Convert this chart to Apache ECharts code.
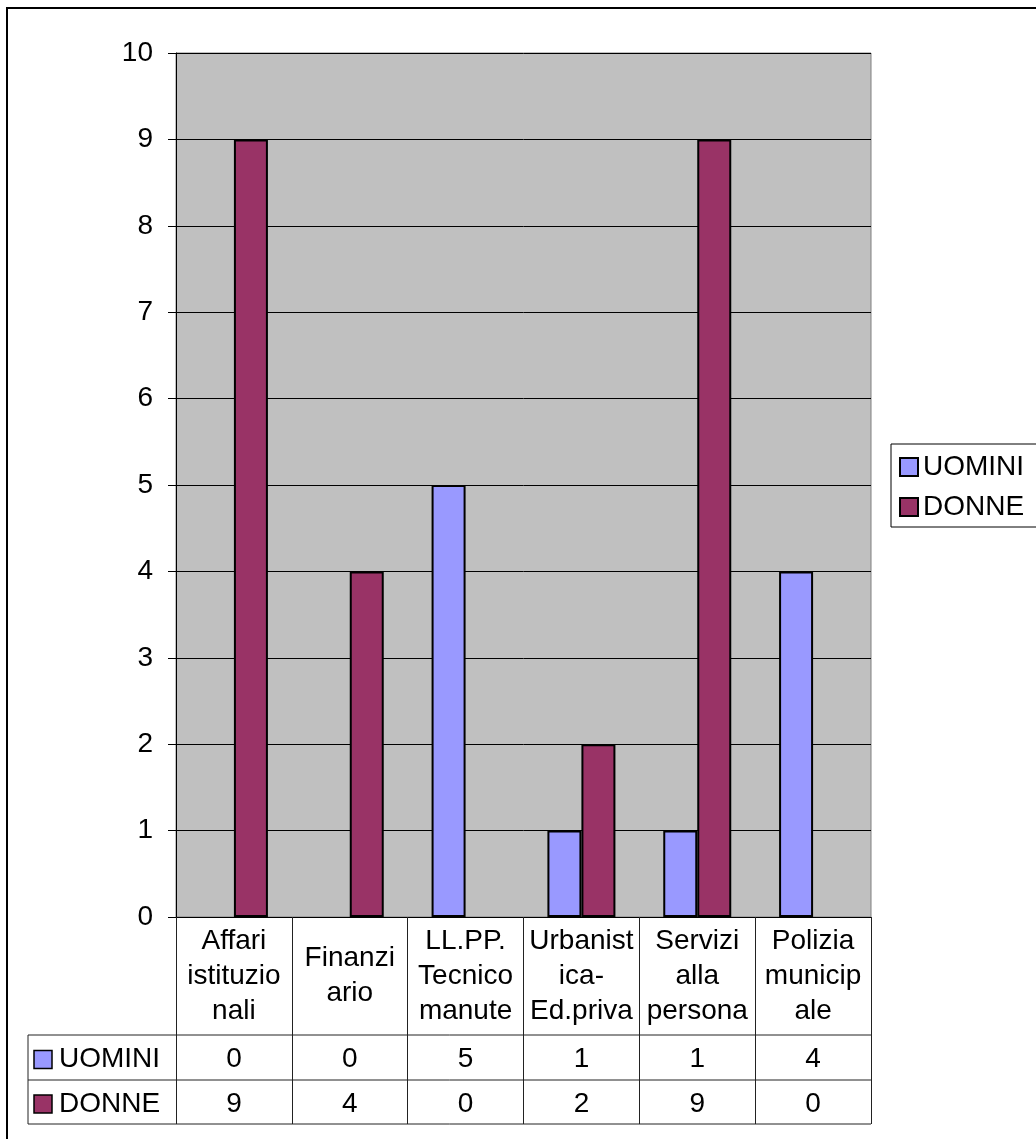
<!DOCTYPE html>
<html>
<head>
<meta charset="utf-8">
<script src="https://cdn.jsdelivr.net/npm/echarts@6/dist/echarts.min.js"></script>
<style>
  html, body { margin: 0; padding: 0; background: #fff; }
  #chart { width: 1036px; height: 1139px; }
</style>
</head>
<body>
<div id="chart"></div>
<script>
// dati del grafico
const categories = ['Affari\nistituzio\nnali', 'Finanzi\nario', 'LL.PP.\nTecnico\nmanute', 'Urbanist\nica-\nEd.priva', 'Servizi\nalla\npersona', 'Polizia\nmunicip\nale'];
const seriesNames = ['UOMINI', 'DONNE'];
const uomini = [0, 0, 5, 1, 1, 4];
const donne = [9, 4, 0, 2, 9, 0];
const yTicks = [0, 10, 1]; // min, max, intervallo

const colors = ['#9999FF', '#993366'];
const FONT = 'Liberation Sans, Arial, sans-serif';
const FS = 28;

// area del grafico (pixel)
const GL = 176, GR = 871, GT = 53, GB = 917;
const cellW = (GR - GL) / categories.length;
const rowY = [1035, 1080, 1124];

const chart = echarts.init(document.getElementById('chart'));

// le barre a zero non si disegnano (niente bordo nero sulla base)
const barData = vals => vals.map(v => (v === 0 ? '-' : v));

// tabella dati sotto il grafico
const tableGraphics = [];
// bordo esterno
tableGraphics.push({ type: 'rect', shape: { x: 7, y: 8, width: 1100, height: 1200 }, style: { fill: 'none', stroke: '#000', lineWidth: 2 }, silent: true });
rowY.forEach(y => {
    tableGraphics.push({ type: 'line', shape: { x1: 28, y1: y, x2: GR, y2: y }, style: { stroke: '#222', lineWidth: 1 } });
});
tableGraphics.push({ type: 'line', shape: { x1: 28, y1: rowY[0], x2: 28, y2: rowY[2] }, style: { stroke: '#222', lineWidth: 1 } });
[uomini, donne].forEach((vals, r) => {
    const cy = (rowY[r] + rowY[r + 1]) / 2 + 2;
    tableGraphics.push({ type: 'rect', shape: { x: 34, y: cy - 9, width: 18, height: 18 }, style: { fill: colors[r], stroke: '#000', lineWidth: 1.5 } });
    tableGraphics.push({ type: 'text', x: 59, y: cy, style: { text: seriesNames[r], font: FS + 'px ' + FONT, fill: '#000', verticalAlign: 'middle' } });
    vals.forEach((v, i) => {
        tableGraphics.push({ type: 'text', x: GL + cellW * (i + 0.5), y: cy, style: { text: String(v), font: FS + 'px ' + FONT, fill: '#000', align: 'center', verticalAlign: 'middle' } });
    });
});

chart.setOption({
    animation: false,
    backgroundColor: '#fff',
    textStyle: { fontFamily: FONT },
    grid: {
        left: GL, right: 1036 - GR, top: GT, bottom: 1139 - GB,
        show: true, backgroundColor: '#C0C0C0', borderColor: '#808080', borderWidth: 1,
        containLabel: false
    },
    legend: {
        data: seriesNames,
        orient: 'vertical',
        left: 891, top: 444,
        icon: 'rect',
        itemWidth: 18, itemHeight: 18, itemGap: 10,
        padding: [8, 30, 5, 8],
        borderColor: '#000', borderWidth: 1,
        textStyle: { fontSize: FS, lineHeight: 30, color: '#000', fontFamily: FONT }
    },
    xAxis: {
        type: 'category',
        data: categories,
        axisLine: { show: true, lineStyle: { color: '#000', width: 1 } },
        axisTick: { show: true, alignWithLabel: false, length: rowY[2] - GB, lineStyle: { color: '#222', width: 1 } },
        axisLabel: { fontSize: FS, color: '#000', lineHeight: 35, margin: 59, verticalAlign: 'middle', interval: 0, fontFamily: FONT },
        splitLine: { show: false }
    },
    yAxis: {
        type: 'value',
        min: yTicks[0], max: yTicks[1], interval: yTicks[2],
        axisLine: { show: true, lineStyle: { color: '#000', width: 1 } },
        axisTick: { show: true, length: 8, lineStyle: { color: '#000' } },
        axisLabel: { fontSize: FS, color: '#000', margin: 23, fontFamily: FONT },
        splitLine: { show: true, lineStyle: { color: '#000', width: 1 } }
    },
    series: [
        {
            name: seriesNames[0], type: 'bar', data: barData(uomini),
            barWidth: 34, barGap: '0%',
            itemStyle: { color: colors[0], borderColor: '#000', borderWidth: 2 }
        },
        {
            name: seriesNames[1], type: 'bar', data: barData(donne),
            barWidth: 34, barGap: '0%',
            itemStyle: { color: colors[1], borderColor: '#000', borderWidth: 2 }
        }
    ],
    graphic: tableGraphics
});
</script>
</body>
</html>
